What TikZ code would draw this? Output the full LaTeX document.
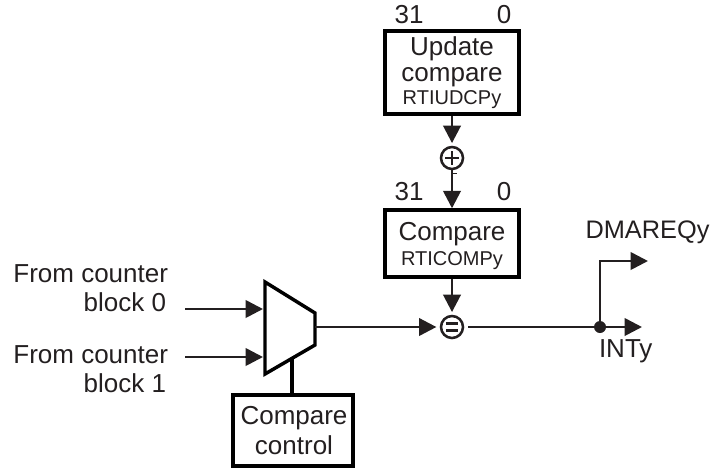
\documentclass[tikz,border=0pt]{standalone}
\usepackage{fontspec}
\setmainfont{Liberation Sans}
\usetikzlibrary{arrows.meta,calc}
\definecolor{ink}{HTML}{231F20}
\tikzset{
  boxA/.style={draw=black,line width=2.6pt,inner sep=0pt,align=center,text=ink,font=\fontsize{19.5}{19.5}\selectfont},
  lbl/.style={inner sep=0pt,outer sep=0pt,anchor=base,text=ink,font=\fontsize{19.5}{19.5}\selectfont},
  conn/.style={draw=ink,line width=2pt,-{Triangle[length=13pt,width=13pt]}},
  plainconn/.style={draw=ink,line width=2pt},
  opc/.style={circle,draw=ink,line width=1.9pt,minimum size=16.5pt,inner sep=0pt},
}
\begin{document}
\begin{tikzpicture}[x=0.75pt,y=-0.75pt]
\useasboundingbox (0,0) rectangle (712,469);
% boxes
\node[boxA,minimum width=100.5pt,minimum height=62.25pt] (upd) at (452,72.5)
  {Update\\compare\\[-2pt]{\fontsize{15}{15}\selectfont RTIUDCPy}};
\node[boxA,minimum width=100.5pt,minimum height=50.25pt] (cmp) at (452,243.5)
  {\rule{0pt}{17pt}Compare\\[-1pt]{\fontsize{15}{15}\selectfont RTICOMPy}};
\node[boxA,minimum width=90pt,minimum height=53.25pt] (ctl) at (293,430.5)
  {\hspace*{1.5pt}Compare\\[3.5pt]\hspace*{1.5pt}control};
% operators
\node[opc] (plus) at (452,158) {};
\node[opc] (eq) at (452,327) {};
\draw[ink,line width=1.6pt] ($(plus)+(-7,0)$) -- ($(plus)+(7,0)$) ($(plus)+(0,-7)$) -- ($(plus)+(0,7)$);
\draw[ink,line width=1.7pt] ($(eq)+(-6,-3.5)$) -- ($(eq)+(6,-3.5)$) ($(eq)+(-6,3.5)$) -- ($(eq)+(6,3.5)$);
\draw[ink,line width=0.6pt] ($(plus)+(1,15)$) -- ($(plus)+(5,15)$);
% mux
\coordinate (m1) at (265,282);
\coordinate (m2) at (315,313);
\coordinate (m3) at (315,345);
\coordinate (m4) at (265,374);
\coordinate (mout) at (315,327);
\coordinate (mctl) at (292,358);
\coordinate (in1) at (263,309);
\coordinate (in2) at (263,357);
\coordinate (in1s) at (185,309);
\coordinate (in2s) at (185,357);
\draw[black,line width=2.6pt,line join=miter] (m1) -- (m2) -- (m3) -- (m4) -- cycle;
% junction
\node[circle,fill=ink,minimum size=9pt,inner sep=0pt] (jn) at (600,327) {};
\coordinate (dmaend) at (648,261);
\coordinate (intend) at (642,327);
% connectors
\draw[conn,shorten >=2pt] (upd) -- (plus);
\draw[conn] (plus) -- (cmp);
\draw[conn,shorten >=2pt] (cmp) -- (eq);
\draw[conn] (in1s) -- (in1);
\draw[conn] (in2s) -- (in2);
\draw[conn,shorten >=2.5pt] (mout) -- (eq);
\draw[plainconn,shorten <=3pt] (eq) -- (jn);
\draw[conn] (jn) -- (intend);
\draw[conn] (jn) |- (dmaend);
\draw[draw=black,line width=2.4pt] (mctl) -- (mctl |- ctl.north);
% labels
\node[lbl] (t1a) at (409,23) {31};
\node[lbl] (t1b) at (504,23) {0};
\node[lbl] (t2a) at (409,200) {31};
\node[lbl] (t2b) at (504,200) {0};
\node[lbl,font=\fontsize{19}{19}\selectfont] (dma) at (647.5,238) {DMAREQy};
\node[lbl,anchor=base west] (inty) at (599,357) {INTy};
\node[lbl,anchor=base east] (f1) at (168,282) {From counter};
\node[lbl,anchor=base east] (b0) at (166,311) {block 0};
\node[lbl,anchor=base east] (f2) at (168,363) {From counter};
\node[lbl,anchor=base east] (b1) at (166,392) {block 1};
\end{tikzpicture}
\end{document}
